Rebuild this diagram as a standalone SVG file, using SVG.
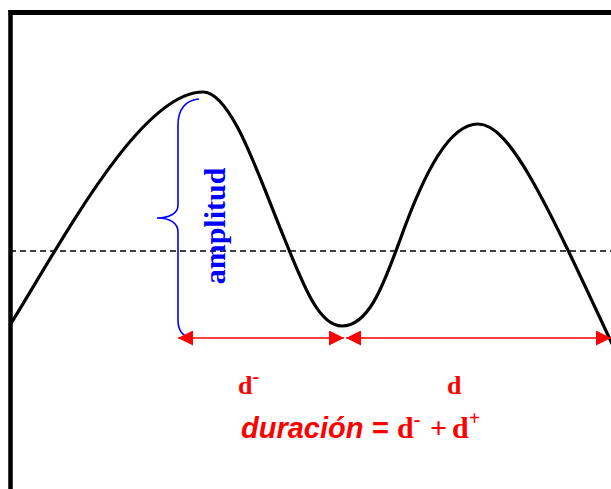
<svg xmlns="http://www.w3.org/2000/svg" width="611" height="489" viewBox="0 0 611 489">
<style>
.frame{stroke:#000;fill:none}
.wave{stroke:#000;stroke-width:3.2;fill:none}
.dash{stroke:#000;stroke-width:1.3;stroke-dasharray:6 4;fill:none}
.brace{stroke:#0000ff;stroke-width:1.6;fill:none}
.arr{stroke:#ff0000;stroke-width:1.6;fill:none;marker-start:url(#ah);marker-end:url(#ah)}
.lblb{font-family:"Liberation Serif","Times New Roman",serif;font-weight:bold;fill:#0000ff}
.lblr{font-family:"Liberation Serif","Times New Roman",serif;font-weight:bold;fill:#ff0000}
.lbli{font-family:"Liberation Sans",Arial,sans-serif;font-weight:bold;font-style:italic;fill:#ff0000}
</style>
<defs>
<marker id="ah" markerUnits="userSpaceOnUse" markerWidth="16" markerHeight="15" refX="15" refY="7.5" orient="auto-start-reverse">
<path d="M0,0 L15,7.5 L0,15 Z" fill="#ff0000"/>
</marker>
</defs>
<g id="frame">
<line class="frame" x1="8.5" y1="12.5" x2="611" y2="12.5" stroke-width="5"/>
<line class="frame" x1="10.5" y1="10" x2="10.5" y2="489" stroke-width="4.5"/>
</g>
<g id="axis">
<line class="dash" x1="10" y1="251" x2="611" y2="251"/>
</g>
<g id="wave">
<path class="wave" d="M10,325 C60,245 140,92 203,92 C232,92 260,180 285,240 C305,290 320,326 342,326 C370,326 385,280 400,240 C425,170 450,124 478,124 C510,124 545,200 614,348"/>
</g>
<g id="amplitud">
<path class="brace" d="M199,99 C185,100 178,110 178,125 L178,205 C178,213 170,218 157,218 C170,218 178,223 178,232 L178,320 C178,330 183,336 190,338"/>
<text class="lblb" font-size="30" text-anchor="middle" transform="translate(225,226) rotate(-90)">amplitud</text>
</g>
<g id="connectors">
<line class="arr" x1="178" y1="338" x2="344" y2="338"/>
<line class="arr" x1="346" y1="338" x2="611" y2="338"/>
</g>
<g id="labels">
<text class="lblr" font-size="26" x="238" y="394">d<tspan font-size="20" dy="-11">-</tspan></text>
<text class="lblr" font-size="26" x="447" y="394">d</text>
<text y="438"><tspan class="lbli" font-size="29" x="241">duración =</tspan><tspan class="lblr" font-size="30" x="397">d</tspan><tspan class="lblr" font-size="20" dy="-12">-</tspan><tspan class="lblr" font-size="30" dy="12" x="430">+</tspan><tspan class="lblr" font-size="30" x="452">d</tspan><tspan class="lblr" font-size="20" dy="-13">+</tspan></text>
</g>
</svg>
